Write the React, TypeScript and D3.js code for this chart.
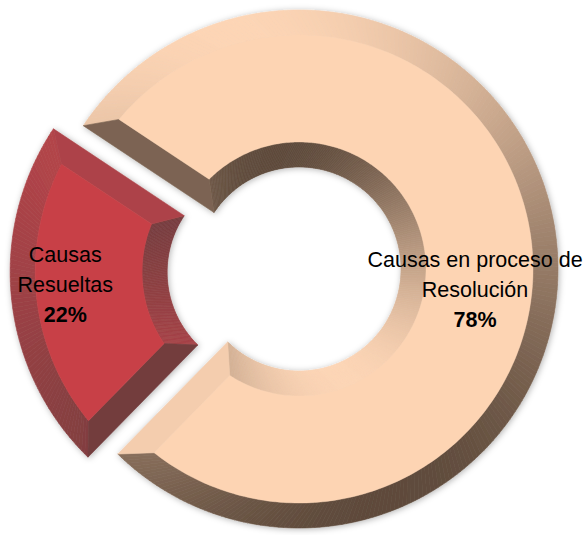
import React from 'react';
import * as d3 from 'd3';

// data
const categories = ['Causas Resueltas', 'Causas en proceso de Resolución'];
const values = [22, 78];
const labelLines = [['Causas', 'Resueltas'], ['Causas en proceso de', 'Resolución']];
const percentLabels = ['22%', '78%'];

// layout / style
const width = 587;
const height = 535;
const cx = 299;
const cy = 269;
const outerR = 259;
const innerR = 102;
const bevel = 25;
const explode = [30, 0];
const startDeg = 224.4;
const faceColors = ['#c84046', '#fdd4b3'];
const shadeRanges = [
  ['#6e3c3d', '#bb454a'],
  ['#5e4a3b', '#fdd5b5'],
];
const labelRadius = [205, 177];
const labelShift = [[0, -1.5], [0, 46.5]];
const lightDir = (() => {
  const v = [-0.3, -0.95];
  const n = Math.hypot(v[0], v[1]);
  return [v[0] / n, v[1] / n];
})();

type P = [number, number];
const pt = (r: number, a: number): P => [Math.sin(a) * r, -Math.cos(a) * r];
const poly = d3.line<P>().curve(d3.curveLinearClosed);

function shade(i: number, nx: number, ny: number) {
  const dot = nx * lightDir[0] + ny * lightDir[1];
  return d3.interpolateRgb(shadeRanges[i][0], shadeRanges[i][1])((dot + 1) / 2);
}

interface Piece { d: string; fill: string }

function bevelPieces(i: number, a0: number, a1: number): { pieces: Piece[]; face: string } {
  const R = outerR, r = innerR, b = bevel;
  const dO = Math.asin(b / (R - b));
  const dI = Math.asin(b / (r + b));
  const fo0 = a0 + dO, fo1 = a1 - dO;
  const fi0 = a0 + dI, fi1 = a1 - dI;
  const n = Math.ceil((a1 - a0) / (Math.PI / 180));
  const pieces: Piece[] = [];
  for (let k = 0; k < n; k++) {
    const t0 = k / n, t1 = (k + 1) / n;
    const m = a0 + ((t0 + t1) / 2) * (a1 - a0);
    // outer band
    pieces.push({
      d: poly([
        pt(R, a0 + t0 * (a1 - a0)),
        pt(R, a0 + t1 * (a1 - a0)),
        pt(R - b, fo0 + t1 * (fo1 - fo0)),
        pt(R - b, fo0 + t0 * (fo1 - fo0)),
      ])!,
      fill: shade(i, Math.sin(m), -Math.cos(m)),
    });
    // inner band
    pieces.push({
      d: poly([
        pt(r, a0 + t0 * (a1 - a0)),
        pt(r, a0 + t1 * (a1 - a0)),
        pt(r + b, fi0 + t1 * (fi1 - fi0)),
        pt(r + b, fi0 + t0 * (fi1 - fi0)),
      ])!,
      fill: shade(i, -Math.sin(m), Math.cos(m)),
    });
  }
  // cut edges
  pieces.push({
    d: poly([pt(R, a0), pt(r, a0), pt(r + b, fi0), pt(R - b, fo0)])!,
    fill: shade(i, -Math.cos(a0), -Math.sin(a0)),
  });
  pieces.push({
    d: poly([pt(R, a1), pt(r, a1), pt(r + b, fi1), pt(R - b, fo1)])!,
    fill: shade(i, Math.cos(a1), Math.sin(a1)),
  });
  // face
  const facePts: P[] = [];
  for (let k = 0; k <= n; k++) facePts.push(pt(R - b, fo0 + (k / n) * (fo1 - fo0)));
  for (let k = n; k >= 0; k--) facePts.push(pt(r + b, fi0 + (k / n) * (fi1 - fi0)));
  return { pieces, face: poly(facePts)! };
}

export default function App() {
  const a0 = (startDeg * Math.PI) / 180;
  const pie = d3.pie<number>().sort(null).value(d => d).startAngle(a0).endAngle(a0 + 2 * Math.PI);
  const arcs = pie(values);

  return (
    <svg width={width} height={height} style={{ display: 'block', position: 'absolute', left: 0, top: 0 }}>
      <defs>
        <filter id="shadow" x="-10%" y="-10%" width="120%" height="120%">
          <feDropShadow dx="1" dy="1" stdDeviation="3" floodColor="#000" floodOpacity="0.3" />
        </filter>
      </defs>
      <rect width={width} height={height} fill="#fff" />
      {arcs.map((a, i) => {
        const mid = (a.startAngle + a.endAngle) / 2;
        const off = pt(explode[i], mid);
        const { pieces, face } = bevelPieces(i, a.startAngle, a.endAngle);
        return (
          <g key={categories[i]} transform={`translate(${cx + off[0]},${cy + off[1]})`} filter="url(#shadow)">
            {pieces.map((p, k) => (
              <path key={k} d={p.d} fill={p.fill} stroke={p.fill} strokeWidth={0.6} />
            ))}
            <path d={face} fill={faceColors[i]} stroke={faceColors[i]} strokeWidth={0.4} />
          </g>
        );
      })}
      {arcs.map((a, i) => {
        const mid = (a.startAngle + a.endAngle) / 2;
        const off = pt(explode[i], mid);
        const c = pt(labelRadius[i], mid);
        const x = cx + off[0] + c[0] + labelShift[i][0];
        const y = cy + off[1] + c[1] + labelShift[i][1];
        return (
          <text key={`l${i}`} x={x} y={y} textAnchor="middle" fontFamily="'Liberation Sans', Arial, sans-serif" fontSize={21.5} fill="#000">
            <tspan x={x} y={y - 30}>{labelLines[i][0]}</tspan>
            <tspan x={x} y={y}>{labelLines[i][1]}</tspan>
            <tspan x={x} y={y + 30} fontWeight="bold">{percentLabels[i]}</tspan>
          </text>
        );
      })}
    </svg>
  );
}
